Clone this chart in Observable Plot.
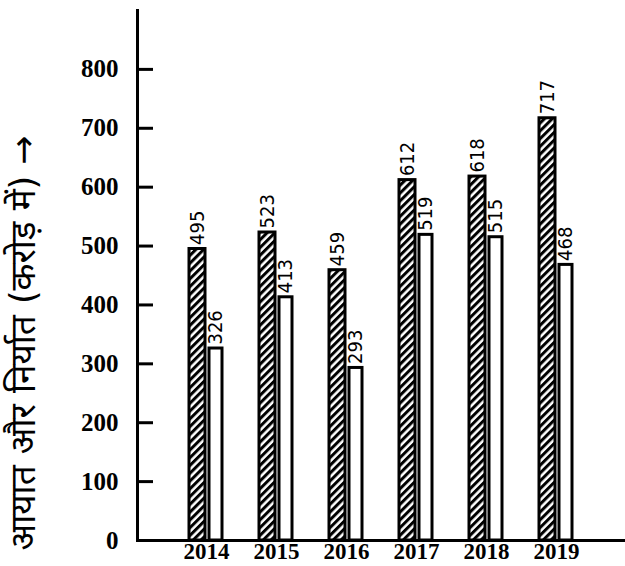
<!DOCTYPE html>
<html><head><meta charset="utf-8">
<script src="https://cdn.jsdelivr.net/npm/d3@7"></script>
<script src="https://cdn.jsdelivr.net/npm/@observablehq/plot@0.6"></script>
<style>html,body{margin:0;padding:0;background:#fff}</style>
</head><body><div id="chart"></div>
<script>
const years = ["2014", "2015", "2016", "2017", "2018", "2019"];
const imports = [495, 523, 459, 612, 618, 717];
const exports = [326, 413, 293, 519, 515, 468];
const yTicks = [0, 100, 200, 300, 400, 500, 600, 700, 800];
const yTitle = "आयात और निर्यात (करोड़ में) →";

const rows = years.map((year, i) => ({year, imp: imports[i], exp: exports[i]}));

const serif = "'Liberation Serif', 'DejaVu Serif', serif";
const narrow = "'Liberation Sans Narrow', 'DejaVu Sans Condensed', 'Liberation Sans', sans-serif";
const deva = "'DejaVu Sans', 'Noto Sans Devanagari', 'Noto Sans', sans-serif";

const plot = Plot.plot({
  width: 625, height: 566,
  marginLeft: 137, marginRight: 0, marginTop: 10, marginBottom: 26,
  style: {background: "transparent", fontFamily: serif, color: "black"},
  x: {domain: years, paddingInner: 0.52, paddingOuter: 0.7065, label: null},
  y: {domain: [0, 900], label: null},
  marks: [
    Plot.barY(rows, {x: "year", y: "imp", fill: "url(#hatch)", stroke: "black", strokeWidth: 3, insetRight: 18}),
    Plot.barY(rows, {x: "year", y: "exp", fill: "white", stroke: "black", strokeWidth: 3, insetLeft: 20, insetRight: 1}),
    Plot.text(rows, {x: "year", y: "imp", text: d => String(d.imp), rotate: -90, textAnchor: "start", dx: -9, dy: -4, fontSize: 20, fontFamily: narrow, fill: "black"}),
    Plot.text(rows, {x: "year", y: "exp", text: d => String(d.exp), rotate: -90, textAnchor: "start", dx: 9.5, dy: -4, fontSize: 20, fontFamily: narrow, fill: "black"}),
    Plot.frame({anchor: "left", strokeWidth: 3, stroke: "black"}),
    Plot.frame({anchor: "bottom", strokeWidth: 3, stroke: "black"}),
    Plot.axisY({ticks: yTicks, tickFormat: d => String(d), tickSize: 16, dx: 16, tickPadding: 19, fontSize: 25, fontWeight: "bold", strokeWidth: 3, label: null}),
    Plot.axisX({tickSize: 0, tickPadding: 2, fontSize: 23, fontWeight: "bold", label: null}),
    Plot.text([yTitle], {text: d => d, frameAnchor: "bottom-left", rotate: -90, textAnchor: "start", dx: -103, dy: 10, fontSize: 35, fontFamily: deva, fill: "black"})
  ]
});

const svg = plot.tagName.toLowerCase() === "svg" ? plot : plot.querySelector("svg");
const ns = "http://www.w3.org/2000/svg";
const defs = document.createElementNS(ns, "defs");
const pat = document.createElementNS(ns, "pattern");
pat.setAttribute("id", "hatch");
pat.setAttribute("patternUnits", "userSpaceOnUse");
pat.setAttribute("width", "5.5");
pat.setAttribute("height", "5.5");
pat.setAttribute("patternTransform", "rotate(45)");
const bg = document.createElementNS(ns, "rect");
bg.setAttribute("width", "5.5"); bg.setAttribute("height", "5.5"); bg.setAttribute("fill", "#fff");
const st = document.createElementNS(ns, "rect");
st.setAttribute("width", "3"); st.setAttribute("height", "5.5"); st.setAttribute("fill", "#000");
pat.appendChild(bg); pat.appendChild(st);
defs.appendChild(pat);
svg.insertBefore(defs, svg.firstChild);

document.getElementById("chart").appendChild(plot);
</script>
</body></html>
